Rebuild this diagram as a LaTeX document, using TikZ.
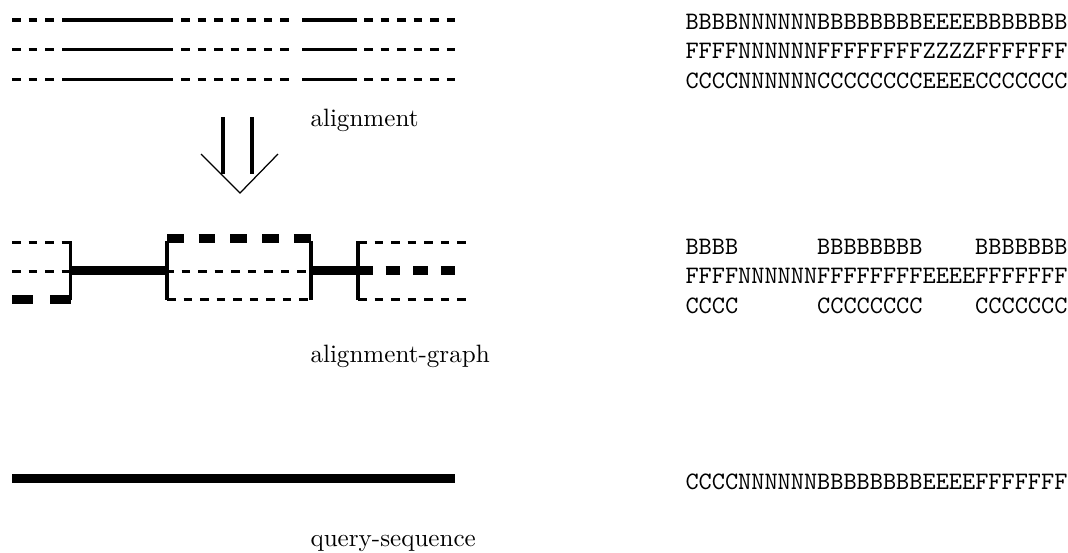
\documentclass[tikz,border=0pt]{standalone}
\begin{document}
\begin{tikzpicture}[x = 0.3986pt, y = -0.3986pt]
  \tikzstyle{seq} = [line width = 1.2pt]
  \tikzstyle{gap} = [line width = 1.2pt, dash pattern = on 3.4pt off 3.2pt]
  \tikzstyle{heavy} = [line width = 3.6pt]
  \tikzstyle{heavy_gap} = [line width = 3.6pt, dash pattern = on 6.6pt off 6.05pt]
  \tikzstyle{short_gap} = [line width = 3.2pt, dash pattern = on 8.4pt off 6.8pt]
  \tikzstyle{end_gap} = [line width = 3.6pt, dash pattern = on 5.8pt off 5.2pt]
  \tikzstyle{shaft} = [line width = 1.4pt]
  \tikzstyle{head} = [line width = 0.5pt]
  \tikzstyle{residues} = [anchor = base west, inner sep = 0pt, font = \ttfamily]
  \tikzstyle{caption} = [anchor = base west, inner sep = 0pt]

  \useasboundingbox (0,0) rectangle (1068,552);

  % alignment
  \draw[gap] (12,20) to (54,20);
  \draw[seq] (62,20) to (173,20);
  \draw[gap] (181,20) to (290,20);
  \draw[seq] (302,20) to (357,20);
  \draw[gap] (364,20) to (456,20);
  \draw[gap] (12,49) to (54,49);
  \draw[seq] (62,49) to (173,49);
  \draw[gap] (181,49) to (290,49);
  \draw[seq] (302,49) to (357,49);
  \draw[gap] (364,49) to (456,49);
  \draw[gap] (12,79) to (54,79);
  \draw[seq] (62,79) to (173,79);
  \draw[gap] (181,79) to (290,79);
  \draw[seq] (302,79) to (357,79);
  \draw[gap] (364,79) to (456,79);

  \node[residues] at (685,29) (row_b) {BBBBNNNNNNBBBBBBBBEEEEBBBBBBB};
  \node[residues] at (685,58) (row_f) {FFFFNNNNNNFFFFFFFFZZZZFFFFFFF};
  \node[residues] at (685,88) (row_c) {CCCCNNNNNNCCCCCCCCEEEECCCCCCC};

  % arrow
  \draw[shaft] (223,117) to (223,174);
  \draw[shaft] (252,117) to (252,174);
  \draw[head] (201,154) -- (240,193) -- (278,154);
  \node[caption] at (310,126) (align_label) {alignment};

  % alignment-graph
  \draw[gap] (12,242) to (71,242);
  \draw[gap] (12,271) to (71,271);
  \draw[short_gap] (12,299.5) to (71,299.5);
  \draw[seq] (70.5,241) to (70.5,300);
  \draw[heavy] (70,270.5) to (167,270.5);
  \draw[seq] (167,241) to (167,300);
  \draw[heavy_gap] (167,238.5) to (311,238.5);
  \draw[gap] (165,271) to (311,271);
  \draw[gap] (167,299) to (311,299);
  \draw[seq] (311,241) to (311,300);
  \draw[heavy] (311,270.5) to (358,270.5);
  \draw[end_gap] (358,270.5) to (456,270.5);
  \draw[seq] (358,241) to (358,300);
  \draw[gap] (358,242) to (466,242);
  \draw[gap] (358,299) to (466,299);

  \node[residues] at (685,254) (graph_b) {BBBB\phantom{NNNNNN}BBBBBBBB\phantom{EEEE}BBBBBBB};
  \node[residues] at (685,283) (graph_f) {FFFFNNNNNNFFFFFFFFEEEEFFFFFFF};
  \node[residues] at (685,313) (graph_c) {CCCC\phantom{NNNNNN}CCCCCCCC\phantom{EEEE}CCCCCCC};
  \node[caption] at (310,362) (graph_label) {alignment-graph};

  % query-sequence
  \draw[heavy] (12,478.5) to (455,478.5);
  \node[residues] at (685,489) (query) {CCCCNNNNNNBBBBBBBBEEEEFFFFFFF};
  \node[caption] at (310,546) (query_label) {query-sequence};
\end{tikzpicture}
\end{document}
